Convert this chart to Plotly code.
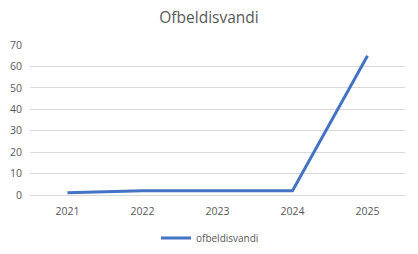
import plotly.graph_objects as go

years = ["2021", "2022", "2023", "2024", "2025"]
values = [1, 2, 2, 2, 65]
series_name = "ofbeldisvandi"
title = "Ofbeldisvandi"

fig = go.Figure()
fig.add_trace(go.Scatter(x=years, y=values, mode="lines", name=series_name,
                         line=dict(color="#4472C4", width=3)))

fig.update_layout(
    width=418, height=254,
    margin=dict(l=30, r=13, t=45, b=59, autoexpand=False),
    paper_bgcolor="white", plot_bgcolor="white",
    font=dict(family="Open Sans, Liberation Sans, sans-serif", color="#595959", size=10.5),
    title=dict(text=title, x=0.5, xanchor="center", y=0.93, yanchor="middle",
               font=dict(size=15.5, color="#595959")),
    showlegend=True,
    legend=dict(orientation="h", x=0.48, xanchor="center", yref="container",
                y=16 / 254, yanchor="middle",
                font=dict(size=10, color="#595959"), itemwidth=30),
    xaxis=dict(type="category", range=[-0.5, 4.5], showgrid=False, showline=True,
               linecolor="#D9D9D9", ticks="", ticklabelstandoff=6, automargin=False,
               tickfont=dict(size=10.5, color="#595959")),
    yaxis=dict(range=[0, 70], dtick=10, showgrid=True, gridcolor="#D9D9D9",
               zeroline=False, showline=False, ticks="", ticklen=0, ticklabelstandoff=7,
               automargin=False, tickfont=dict(size=10.5, color="#595959")),
)

fig.write_html("out.html")
